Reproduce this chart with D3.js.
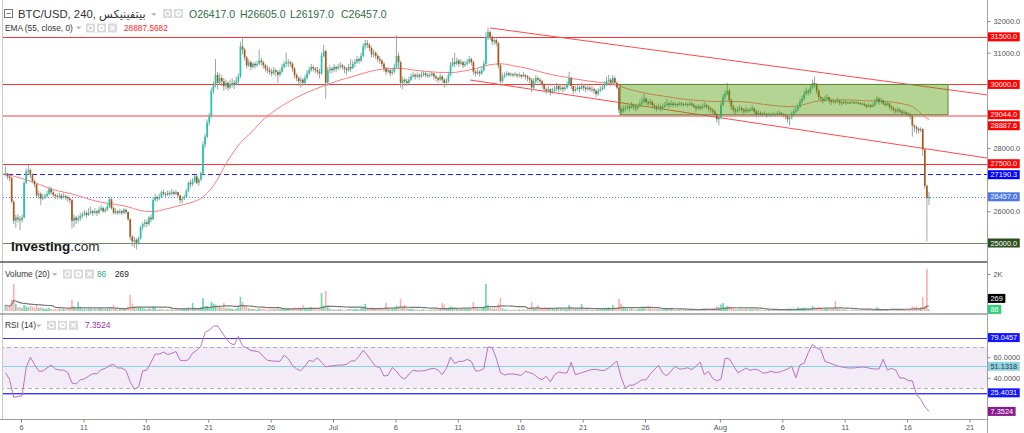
<!DOCTYPE html>
<html>
<head>
<meta charset="utf-8">
<script src="https://cdnjs.cloudflare.com/ajax/libs/d3/7.8.5/d3.min.js"></script>
<style>
  body { margin: 0; background: #fff; }
  svg { display: block; font-family: "Liberation Sans", Arial, "DejaVu Sans", sans-serif; }
</style>
</head>
<body>
<script>
// BTC/USD 240 (4h candles), Bitfinex, early June - mid August 2023
var firstCandle = '2023-06-04 16:00';
var firstOpen = 27150;
var xDomain = ['2023-06-04 13:23', '2023-08-22 09:36'];

var closes = [
  27200,
  27100,27050,26300,25700,25800,25750,
  25720,25800,26900,27250,27300,27150,
  26950,26850,26500,26550,26400,26450,
  26480,26550,26700,26600,26520,26480,
  26450,26500,26420,26480,26450,26400,
  26350,25700,25800,25720,25780,25850,
  25900,25950,25880,25950,26000,25950,
  26000,25950,26050,26100,26000,26050,
  26150,26380,26100,25950,26000,25950,
  26000,25950,26050,25980,25750,25200,
  25050,25100,25000,25150,25500,25600,
  25650,25600,25800,25750,26350,26450,
  26400,26450,26600,26550,26520,26580,
  26550,26600,26550,26600,26500,26350,
  26400,26450,26650,26900,26850,26950,
  27100,26900,27000,27200,28100,28350,
  28800,29000,29800,30000,30300,30050,
  30200,30100,29950,30050,29900,30000,
  30050,30000,30100,30250,31200,31100,
  30850,30600,30700,30550,30650,30600,
  30650,30750,30700,30600,30500,30450,
  30400,30350,30450,30400,30300,30400,
  30550,30650,30700,30700,30650,
  30500,30300,30200,30100,30150,30050,
  30200,30350,30450,30550,30500,30450,
  30400,30350,30900,31050,30050,30450,
  30500,30450,30550,30500,30550,30600,
  30550,30500,30450,30550,30500,30650,
  30700,30800,30750,30900,31200,31300,
  31250,31150,30950,31000,30900,30800,
  30750,30650,30500,30400,30450,30350,
  30400,30550,30900,30700,30050,30150,
  30100,30050,30150,30250,30300,30250,
  30300,30250,30300,30350,30300,30280,
  30300,30350,30250,30200,30150,
  30250,30150,30050,30100,30300,30600,
  30700,30650,30750,30650,30700,30600,
  30650,30700,30800,30700,30400,30350,
  30400,30350,30450,30650,31500,31650,
  31500,31350,31400,31300,30600,30100,
  30250,30300,30350,30300,30320,30300,
  30320,30280,30300,30250,30300,30250,
  30200,30150,29900,30100,30200,30150,
  30100,30000,29850,29800,29850,29750,
  29800,29850,29950,29850,29900,29850,
  29900,30000,30200,29950,29800,29850,
  29900,29850,29950,29900,29850,29900,
  29850,29850,29800,29700,29800,
  29850,29900,30000,30100,30150,30050,
  30200,30050,29900,29200,29150,29250,
  29250,29300,29250,29350,29300,29250,
  29300,29400,29450,29550,29450,29400,
  29450,29350,29300,29250,29300,29250,
  29300,29350,29400,29350,29400,29350,
  29380,29350,29400,29380,29350,29380,
  29350,29400,29350,29300,29250,29300,
  29250,29300,29350,29300,29250,29200,
  29150,29050,28900,28950,29350,29600,
  29700,29800,29500,29300,29200,29150,
  29200,29250,29200,29150,29200,29180,
  29200,29250,29150,29050,29100,29080,
  29050,29080,29020,29060,29050,
  29070,29050,29080,29100,29050,29030,
  29000,28900,28950,29050,29150,29200,
  29300,29450,29550,29700,29800,29750,
  29900,30050,30000,29800,29600,29550,
  29500,29550,29600,29500,29450,29480,
  29450,29500,29430,29400,29450,29420,
  29430,29420,29440,29420,29430,29410,
  29400,29380,29350,29300,29350,29300,
  29350,29450,29550,29450,29500,29400,
  29350,29400,29300,29250,29200,29150,
  29200,29150,29100,29120,29080,29050,
  29000,28700,28650,28600,28550,28600,
  27950,26800,26417,26457
];

var highs = [
  27420,
  27200,27150,27100,26350,25900,25900,
  25850,25900,26950,27350,27460,27350,
  27200,27000,26880,26650,26600,26550,
  26560,26650,26780,26760,26650,26560,
  26560,26580,26550,26600,26520,26500,
  26450,26380,25900,25850,25880,25950,
  25980,26050,26000,26100,26150,26050,
  26100,26050,26150,26200,26150,26120,
  26250,26450,26400,26150,26100,26050,
  26080,26050,26100,26080,26000,25780,
  25250,25200,25150,25200,25550,25650,
  25750,25720,25850,25900,26450,26550,
  26500,26550,26650,26680,26600,26650,
  26650,26700,26650,26680,26620,26520,
  26480,26520,26700,26950,27000,27050,
  27150,27150,27050,27250,28200,28450,
  28900,29100,29900,30100,30800,30400,
  30350,30300,30200,30150,30100,30150,
  30200,30150,30250,30350,31350,31450,
  31150,30900,30800,30750,30700,30720,
  30750,31100,30850,30750,30650,30600,
  30550,30500,30550,30500,30450,30500,
  30650,30750,31000,30800,30750,
  30700,30550,30350,30250,30250,30200,
  30300,30450,30550,30650,30600,30550,
  30550,30500,31000,31250,31100,30550,
  30600,30550,30650,30600,30650,30700,
  30650,30600,30550,30650,30800,30750,
  30800,30900,30850,31000,31300,31400,
  31400,31300,31200,31100,31050,30950,
  30900,30800,30700,30550,30550,30500,
  30500,30650,31550,31000,30750,30250,
  30200,30180,30250,30350,30400,30350,
  30380,30350,30400,30420,30400,30350,
  30380,30420,30350,30300,30250,
  30350,30300,30200,30200,30400,30700,
  30850,31000,30850,30800,30800,30750,
  30750,30800,30900,30850,30750,30450,
  30500,30450,30550,30750,31650,31800,
  31700,31550,31500,31450,31350,30650,
  30350,30380,30420,30400,30380,30360,
  30400,30350,30380,30330,30400,30320,
  30300,30250,30200,30200,30300,30250,
  30200,30150,30050,29900,29950,29880,
  29900,29950,30050,30000,30000,29950,
  30000,30100,30400,30250,29950,29950,
  30000,29950,30050,30000,29950,30000,
  29950,29950,29900,29850,29880,
  29950,30000,30100,30250,30300,30200,
  30300,30250,30100,29950,29280,29350,
  29350,29400,29350,29450,29400,29350,
  29400,29500,29600,29700,29600,29500,
  29550,29500,29400,29350,29400,29350,
  29400,29450,29550,29450,29500,29450,
  29450,29420,29460,29450,29420,29440,
  29420,29480,29450,29400,29350,29380,
  29350,29400,29450,29400,29350,29300,
  29250,29200,29100,29050,29450,29700,
  29800,30050,29850,29550,29350,29250,
  29300,29350,29300,29250,29300,29250,
  29280,29350,29280,29200,29180,29150,
  29120,29150,29100,29120,29100,
  29130,29100,29150,29180,29130,29100,
  29080,29050,29000,29150,29250,29300,
  29400,29550,29650,29800,29900,29850,
  30000,30150,30250,30050,29850,29650,
  29600,29650,29700,29600,29550,29550,
  29520,29580,29520,29480,29520,29480,
  29480,29470,29490,29460,29470,29460,
  29450,29430,29420,29380,29400,29380,
  29420,29550,29650,29600,29580,29520,
  29450,29480,29420,29350,29300,29250,
  29280,29250,29200,29200,29150,29130,
  29100,29050,28750,28700,28650,28650,
  28600,27950,26850,26605
];

var lows = [
  27100,
  27000,26950,26250,25600,25480,25650,
  25400,25650,25780,26850,27150,27050,
  26900,26750,26450,26400,26200,26350,
  26380,26420,26500,26520,26450,26380,
  26380,26400,26350,26400,26350,26300,
  26250,25450,25500,25600,25650,25700,
  25780,25850,25800,25850,25900,25850,
  25900,25850,25900,26000,25950,25950,
  26000,26100,26050,25900,25900,25880,
  25900,25880,25920,25900,25700,25100,
  24900,24850,24800,24950,25100,25400,
  25500,25500,25550,25650,25720,26300,
  26300,26350,26420,26480,26450,26480,
  26480,26500,26500,26500,26450,26250,
  26250,26350,26420,26600,26750,26800,
  26900,26850,26800,26950,27150,28000,
  28300,28700,28950,29700,29900,29850,
  30000,29950,29800,29850,29800,29850,
  29900,29850,29950,30000,30200,30950,
  30750,30500,30550,30450,30500,30500,
  30550,30600,30600,30500,30400,30350,
  30300,30250,30300,30250,30050,30250,
  30350,30500,30550,30550,30550,
  30400,30200,30100,29950,29900,29950,
  30000,30150,30300,30400,30400,30350,
  30300,30200,30300,30850,29550,29950,
  30350,30350,30400,30400,30450,30500,
  30450,30350,30300,30400,30400,30500,
  30550,30650,30650,30700,30850,31100,
  31150,31050,30850,30850,30800,30700,
  30650,30550,30400,30300,30350,30250,
  30300,30350,30500,30500,29900,29850,
  29950,29950,30000,30100,30200,30150,
  30200,30150,30200,30250,30220,30200,
  30220,30250,30150,30100,30050,
  30100,30050,29900,29950,30050,30250,
  30550,30550,30600,30550,30600,30500,
  30550,30600,30650,30600,30300,30250,
  30300,30250,30300,30400,30600,31400,
  31400,31250,31250,31200,30500,29950,
  30050,30200,30250,30250,30250,30230,
  30250,30200,30220,30180,30220,30150,
  30100,30050,29750,29850,30000,30050,
  30000,29900,29750,29700,29750,29650,
  29700,29750,29800,29750,29800,29750,
  29800,29850,29950,29850,29700,29750,
  29800,29750,29850,29800,29750,29800,
  29780,29750,29700,29600,29650,
  29750,29800,29850,29950,30050,29950,
  30000,29950,29850,29100,29050,29100,
  29150,29200,29150,29250,29200,29150,
  29200,29300,29350,29400,29350,29300,
  29350,29250,29200,29150,29200,29150,
  29200,29250,29300,29250,29300,29280,
  29300,29280,29320,29300,29300,29320,
  29280,29320,29300,29250,29150,29200,
  29180,29200,29250,29220,29150,29100,
  29050,28950,28800,28700,28900,29300,
  29500,29650,29400,29200,29100,29050,
  29100,29150,29100,29050,29100,29100,
  29120,29150,29050,28950,29000,29000,
  28980,29000,28950,29000,28980,
  29000,28980,29000,29030,28980,28950,
  28900,28800,28700,28900,29000,29100,
  29150,29250,29400,29500,29650,29650,
  29700,29850,29900,29700,29500,29450,
  29400,29450,29500,29400,29350,29400,
  29380,29420,29350,29320,29380,29350,
  29380,29380,29400,29380,29390,29370,
  29350,29330,29300,29250,29280,29250,
  29280,29300,29400,29350,29400,29350,
  29300,29320,29200,29150,29100,29080,
  29100,29080,29020,29050,29000,28980,
  28900,28350,28500,28450,28450,28500,
  27750,26700,25050,26197
];

var volumes = [
  320,
  250,200,600,1460,400,200,
  220,150,320,250,200,270,
  240,180,320,180,200,150,
  120,130,180,110,100,90,
  80,110,90,120,100,130,
  150,600,250,150,490,200,
  100,90,110,120,140,90,
  110,100,130,150,120,100,
  120,200,180,320,110,90,
  100,90,110,120,250,865,
  400,250,250,200,200,150,
  120,100,150,130,250,200,
  100,80,120,90,80,90,
  80,90,70,80,100,150,
  110,90,160,200,150,430,
  180,160,130,200,700,270,
  270,200,490,400,350,250,
  200,180,430,150,180,140,
  120,100,130,200,757,490,
  300,200,150,130,120,100,
  90,160,110,120,100,90,
  100,90,110,100,150,90,
  110,130,150,150,90,
  130,200,150,180,150,320,
  150,140,120,200,110,100,
  90,100,970,300,1080,300,
  120,90,80,90,80,100,
  80,70,90,100,120,90,
  100,120,90,150,250,380,
  150,130,200,120,110,100,
  120,130,180,430,110,120,
  110,180,300,250,650,200,
  320,150,120,110,100,90,
  80,70,80,90,70,60,
  60,70,90,100,90,
  120,430,350,150,200,250,
  200,180,150,140,120,130,
  110,100,120,130,490,150,
  120,100,130,250,1460,320,
  200,150,130,150,400,700,
  150,90,80,70,60,70,
  60,70,80,70,90,80,
  100,120,490,200,150,320,
  150,130,200,180,120,140,
  110,100,150,120,110,100,
  100,130,320,200,150,110,
  100,90,380,110,100,90,
  70,80,70,90,80,
  80,90,120,180,200,150,
  320,200,180,650,400,250,
  150,120,110,130,100,90,
  100,130,150,180,140,270,
  150,130,120,110,100,90,
  100,90,110,100,120,90,
  60,50,60,70,50,60,
  60,70,60,80,90,120,
  100,110,120,100,110,120,
  130,150,250,200,350,430,
  200,270,250,150,130,110,
  100,90,110,120,100,90,
  90,100,110,120,100,90,
  60,50,50,60,50,
  50,60,50,70,60,70,
  80,100,150,120,130,100,
  200,150,160,180,150,130,
  150,270,200,180,200,150,
  120,110,130,100,120,100,
  540,120,110,100,90,80,
  50,40,50,40,50,40,
  50,60,70,80,60,70,
  80,120,200,150,110,100,
  90,80,90,80,70,80,
  80,90,100,80,90,80,
  120,250,200,270,140,200,
  757,250,2270,86
];

// EMA(55) read at noon of each day, from 4 Jun to 17 Aug, then its last value
var emaNoon = [
  27180,27100,26980,26845,26690,26600,26500,26375,26280,26220,
  26150,26030,25990,26060,26160,26260,26430,26850,27550,28120,
  28510,28920,29220,29460,29670,29840,29990,30130,30240,30360,
  30455,30500,30500,30450,30410,30380,30375,30425,30505,30615,
  30650,30585,30510,30410,30310,30240,30165,30105,30060,30010,
  29875,29770,29690,29630,29565,29520,29490,29460,29470,29460,
  29430,29370,29330,29300,29340,29450,29500,29510,29510,29485,
  29480,29455,29400,29280,28950
];
var emaLast = 28887.5682;

// RSI(14), one reading every second candle (8h)
var rsi8h = [
  45,38.5,21,21.8,22.5,50,60,53,46.4,46.5,
  49.5,52.4,48.5,47.5,47.5,45,35,34,38,39,
  41.5,44,44,47.9,49,52,53,49.5,49.5,47,
  36,28.8,31,46.6,47.5,55,63,63,65,62.6,
  63.7,65.5,57,56.5,57.5,64,66.7,70.8,84,86.5,
  90,90.5,84.5,78.5,73.5,72,80,71,69,66.5,
  66,65,60.5,57,56.5,56,56,62,58.5,
  52,48.6,46.9,51.2,56.8,56,59.5,55,50.5,51.5,
  51.7,52.4,52.4,53,56.3,56.4,61,66.7,62,56.2,
  51,49.9,41.7,42.5,50,46.4,41,38.8,43.5,47.3,
  46.6,46.6,47.2,48.5,49.2,47.5,43.2,49,60,54,
  56,56,57.8,56,46.7,46.8,49,70,69.2,59,
  45,42.7,43.7,43.7,43,42.4,46.2,45,43.5,40,
  38.2,41.5,36,43,45.6,44.7,44.7,55,43,44.2,
  45.6,46.9,48,48.2,47.2,47.2,49.6,53,56.2,40.5,
  30,32.7,33,35.4,38,38,43.5,48,52,44.5,
  42,46.5,51.2,48.4,48.8,49.8,47.9,51.2,55.3,
  43.1,46.2,39.5,37,38.8,59,58.5,52,45,46.9,
  49.5,47.2,48.4,47.6,44.7,44.8,46.4,45.2,45.5,47,
  48.4,51.3,40,52.6,54.2,64.5,72.5,69,67.3,55.9,
  54.6,53,51.4,50.6,49.8,49.5,49.6,50,50.5,50,
  49,48.5,48.6,58,47.5,49.2,47.5,39.8,39.8,37.3,
  37,24,19,12,7.3524
];

// drawn levels and zones
var resistLevels = [31500, 30000, 27500];
var thickLevel = 29044;
var dashLevel = 27190.3;
var supportLevel = 25000;
var channelUpper = [['2023-07-13 14:00', 31780], ['2023-08-22 09:36', 29670]];
var channelLower = [['2023-07-11 23:30', 30140], ['2023-08-22 09:36', 27680]];
var boxDates = ['2023-07-24 00:00', '2023-08-19 06:40'];
var boxPrices = [30000, 29044];
var rsiLevels = [79.0457, 51.1318, 25.4031];

var priceTicks = [26000, 27000, 28000, 29000, 30000, 31000, 32000];
var volTicks = [2000];
var rsiTicks = [20, 40, 60, 80, 100];
var xTickDates = ['2023-06-06','2023-06-11','2023-06-16','2023-06-21','2023-06-26','2023-07-01',
                  '2023-07-06','2023-07-11','2023-07-16','2023-07-21','2023-07-26','2023-08-01',
                  '2023-08-06','2023-08-11','2023-08-16','2023-08-21'];
var xTickLabels = ['6','11','16','21','26','Jul','6','11','16','21','26','Aug','6','11','16','21'];

// ---------------------------------------------------------------
var w = 1024, h = 433, axisX = 987;
var parseTime = d3.timeParse('%Y-%m-%d %H:%M');
var parseDay = d3.timeParse('%Y-%m-%d');
var step = 4 * 3600 * 1000;
var t0 = parseTime(firstCandle);

var candles = closes.map(function(c, i) {
  var o = i ? closes[i - 1] : firstOpen;
  return {
    t: new Date(+t0 + i * step + step / 2), o: o, c: c,
    h: Math.max(highs[i], o, c), l: Math.min(lows[i], o, c),
    v: volumes[i], up: c >= o
  };
});
var last = candles[candles.length - 1];

// volume moving average (20)
candles.forEach(function(d, i) {
  d.ma = d3.mean(candles.slice(Math.max(0, i - 19), i + 1), function(e) { return e.v; });
});

var svg = d3.select('body').append('svg')
            .attr('width', w)
            .attr('height', h);

var x = d3.scaleTime()
          .domain([parseTime(xDomain[0]), parseTime(xDomain[1])])
          .range([3, axisX]);
var yPrice = d3.scaleLinear().domain([25000, 32000]).range([243, 21]);
var yVol = d3.scaleLinear().domain([0, 2000]).range([311, 274]);
var yRsi = d3.scaleLinear().domain([0, 100]).range([419, 316]);

var defs = svg.append('defs');
function clip(id, y0, y1) {
  defs.append('clipPath').attr('id', id)
      .append('rect').attr('x', 3).attr('y', y0).attr('width', axisX - 3).attr('height', y1 - y0);
  return svg.append('g').attr('clip-path', 'url(#' + id + ')');
}
var pricePane = clip('cp', 0, 261);
var volPane = clip('cv', 263, 313);
var rsiPane = clip('cr', 315, 419);

function hline(g, y, color, width, dash) {
  var yy = Math.round(y) + 0.5;
  g.append('line')
   .attr('x1', 0).attr('x2', axisX)
   .attr('y1', yy).attr('y2', yy)
   .attr('stroke', color)
   .attr('stroke-width', width)
   .attr('shape-rendering', 'crispEdges')
   .attr('stroke-dasharray', dash || null);
}

// ---- price pane
resistLevels.forEach(function(p) { hline(pricePane, yPrice(p), '#ff3434', 1); });
hline(pricePane, yPrice(thickLevel), '#ff9c9c', 2);
hline(pricePane, yPrice(dashLevel), '#1f1fff', 1, '5,3');
hline(pricePane, yPrice(last.c), '#5a7dff', 1, '1,2');
hline(pricePane, yPrice(supportLevel), '#6f8c60', 1);

[channelUpper, channelLower].forEach(function(seg) {
  pricePane.append('line')
     .attr('x1', x(parseTime(seg[0][0]))).attr('y1', yPrice(seg[0][1]))
     .attr('x2', x(parseTime(seg[1][0]))).attr('y2', yPrice(seg[1][1]))
     .attr('stroke', '#ff4a4a')
     .attr('stroke-width', 1);
});

var emaPts = emaNoon.map(function(v, i) {
  return { t: d3.timeHour.offset(parseDay('2023-06-04'), 12 + 24 * i), v: v };
});
emaPts.push({ t: last.t, v: emaLast });
pricePane.append('path')
   .datum(emaPts)
   .attr('fill', 'none')
   .attr('stroke', '#ff7b7b')
   .attr('stroke-width', 1)
   .attr('d', d3.line().curve(d3.curveMonotoneX)
                 .x(function(d) { return x(d.t); })
                 .y(function(d) { return yPrice(d.v); }));

pricePane.selectAll('line.wick')
   .data(candles)
   .enter()
   .append('line')
   .attr('class', 'wick')
   .attr('x1', function(d) { return x(d.t); })
   .attr('x2', function(d) { return x(d.t); })
   .attr('y1', function(d) { return yPrice(d.h); })
   .attr('y2', function(d) { return yPrice(d.l); })
   .attr('stroke', '#96a8a0')
   .attr('stroke-width', 1);

pricePane.selectAll('rect.body')
   .data(candles)
   .enter()
   .append('rect')
   .attr('class', 'body')
   .attr('x', function(d) { return x(d.t) - 0.85; })
   .attr('width', 1.7)
   .attr('y', function(d) { return yPrice(Math.max(d.o, d.c)); })
   .attr('height', function(d) { return Math.max(1, Math.abs(yPrice(d.o) - yPrice(d.c))); })
   .attr('fill', function(d) { return d.up ? '#1fc6ad' : '#b0541c'; });

pricePane.append('rect')
   .attr('x', x(parseTime(boxDates[0])))
   .attr('width', x(parseTime(boxDates[1])) - x(parseTime(boxDates[0])))
   .attr('y', yPrice(boxPrices[0]))
   .attr('height', yPrice(boxPrices[1]) - yPrice(boxPrices[0]))
   .attr('fill', 'rgba(76,153,0,0.42)')
   .attr('stroke', '#5b8a3c')
   .attr('stroke-width', 1);

// ---- volume pane
volPane.selectAll('rect')
   .data(candles)
   .enter()
   .append('rect')
   .attr('x', function(d) { return x(d.t) - 0.85; })
   .attr('width', 1.7)
   .attr('y', function(d) { return yVol(d.v); })
   .attr('height', function(d) { return yVol(0) - yVol(d.v); })
   .attr('fill', function(d) { return d.up ? '#6fd8ad' : '#ffb0b0'; });
volPane.append('path')
   .datum(candles)
   .attr('fill', 'none')
   .attr('stroke', '#777')
   .attr('stroke-width', 1.2)
   .attr('d', d3.line()
                 .x(function(d) { return x(d.t); })
                 .y(function(d) { return yVol(d.ma); }));

// ---- rsi pane
rsiPane.append('rect')
   .attr('x', 0).attr('width', axisX)
   .attr('y', yRsi(70)).attr('height', yRsi(30) - yRsi(70))
   .attr('fill', 'rgba(150,70,170,0.11)');
hline(rsiPane, yRsi(70), '#b0b0b0', 1, '4,3');
hline(rsiPane, yRsi(30), '#b0b0b0', 1, '4,3');
hline(rsiPane, yRsi(rsiLevels[0]), '#3a3af2', 1);
hline(rsiPane, yRsi(rsiLevels[1]), '#86d2e6', 1);
hline(rsiPane, yRsi(rsiLevels[2]) + 1, '#a9b0ff', 1);
hline(rsiPane, yRsi(rsiLevels[2]), '#3a3af2', 1);
rsiPane.append('path')
   .datum(rsi8h)
   .attr('fill', 'none')
   .attr('stroke', '#b672c4')
   .attr('stroke-width', 1)
   .attr('d', d3.line()
                 .x(function(d, i) { return x(candles[Math.min(2 * i, candles.length - 1)].t); })
                 .y(function(d) { return yRsi(d); }));

// ---- frame
svg.append('line').attr('x1', 2.5).attr('x2', 2.5).attr('y1', 0).attr('y2', 419).attr('stroke', '#c8c8c8');
svg.append('line').attr('x1', 0).attr('x2', axisX).attr('y1', 262).attr('y2', 262).attr('stroke', '#555').attr('stroke-width', 1.6);
svg.append('line').attr('x1', 0).attr('x2', axisX).attr('y1', 314).attr('y2', 314).attr('stroke', '#999').attr('stroke-width', 1.4);
svg.append('line').attr('x1', 0).attr('x2', axisX).attr('y1', 419.5).attr('y2', 419.5).attr('stroke', '#a0a0a0');
svg.append('line').attr('x1', axisX + 0.5).attr('x2', axisX + 0.5).attr('y1', 0).attr('y2', h).attr('stroke', '#a0a0a0');

// ---- value tags on the right axis (placed first, ticks under them are dropped)
var tagLayer = svg.append('g');
var tagYs = [];
function tags(list, scale, fmt, pushUp) {
  var gap = 11;
  list.forEach(function(d) { d.y = scale(d.v); });
  var s = list.slice().sort(function(a, b) { return pushUp ? b.y - a.y : a.y - b.y; });
  for (var i = 1; i < s.length; i++) {
    if (pushUp && s[i - 1].y - s[i].y < gap) s[i].y = s[i - 1].y - gap;
    if (!pushUp && s[i].y - s[i - 1].y < gap) s[i].y = s[i - 1].y + gap;
  }
  list.forEach(function(d) {
    tagYs.push(d.y);
    var g = tagLayer.append('g').attr('transform', 'translate(' + (axisX + 1) + ',' + d.y + ')');
    var r = g.append('rect');
    var t = g.append('text')
             .attr('x', 2.5).attr('dy', '0.35em')
             .attr('fill', d.fg || '#fff')
             .style('font-size', '7.4px')
             .text(fmt(d.v));
    r.attr('x', 0).attr('y', -4.5).attr('height', 9)
     .attr('width', t.node().getComputedTextLength() + 5)
     .attr('fill', d.bg);
  });
}
var f1 = d3.format('.1f'), f4 = d3.format('.4f'), f0 = d3.format('.0f');
tags([
  { v: resistLevels[0], bg: '#ff0000' },
  { v: resistLevels[1], bg: '#ff0000' },
  { v: thickLevel, bg: '#ff0000' },
  { v: emaLast, bg: '#ff0000' },
  { v: resistLevels[2], bg: '#ff0000' },
  { v: dashLevel, bg: '#0000ff' },
  { v: last.c, bg: '#4d78e6' },
  { v: supportLevel, bg: '#2c4f1d' }
], yPrice, f1, false);
tags([
  { v: last.v, bg: '#2fcf7a' },
  { v: last.ma, bg: '#000' }
], yVol, f0, true);
tags([
  { v: rsiLevels[0], bg: '#1414ff' },
  { v: rsiLevels[1], bg: '#8dd3e4', fg: '#333' },
  { v: rsiLevels[2], bg: '#1414ff' },
  { v: rsi8h[rsi8h.length - 1], bg: '#8b1c8e' }
], yRsi, f4, false);

function freeOf(scale) {
  return function(v) {
    return tagYs.every(function(ty) { return Math.abs(scale(v) - ty) > 9; });
  };
}

// ---- axes
function styleAxis(g) {
  g.select('.domain').remove();
  g.selectAll('line').attr('stroke', '#888');
  g.selectAll('text').attr('fill', '#555').style('font-size', '7.4px');
}
svg.insert('g', function() { return tagLayer.node(); })
   .attr('transform', 'translate(' + (axisX + 0.5) + ',0)')
   .call(d3.axisRight(yPrice).tickValues(priceTicks.filter(freeOf(yPrice)))
           .tickSize(3).tickPadding(3).tickFormat(d3.format('.1f')))
   .call(styleAxis);
svg.insert('g', function() { return tagLayer.node(); })
   .attr('transform', 'translate(' + (axisX + 0.5) + ',0)')
   .call(d3.axisRight(yVol).tickValues(volTicks.filter(freeOf(yVol))).tickSize(3).tickPadding(3)
           .tickFormat(function(d) { return d / 1000 + 'K'; }))
   .call(styleAxis);
svg.insert('g', function() { return tagLayer.node(); })
   .attr('transform', 'translate(' + (axisX + 0.5) + ',0)')
   .call(d3.axisRight(yRsi).tickValues(rsiTicks.filter(freeOf(yRsi)))
           .tickSize(3).tickPadding(3).tickFormat(d3.format('.4f')))
   .call(styleAxis);
svg.append('g')
   .attr('transform', 'translate(0,419.5)')
   .call(d3.axisBottom(x)
           .tickValues(xTickDates.map(parseDay))
           .tickSize(3).tickPadding(2)
           .tickFormat(function(d, i) { return xTickLabels[i]; }))
   .call(styleAxis);

// ---- legends
function arrow(x0, y0) {
  svg.append('path').attr('d', 'M' + x0 + ',' + y0 + 'l5.5,0l-2.75,3z').attr('fill', '#b8b8b8');
}
function icon(x0, y0, kind) {
  var g = svg.append('g').attr('transform', 'translate(' + x0 + ',' + y0 + ')');
  g.append('rect').attr('width', 9).attr('height', 9).attr('fill', '#d9d9d9');
  if (kind === 'eye') {
    g.append('circle').attr('cx', 4.5).attr('cy', 4.5).attr('r', 2.4)
     .attr('fill', 'none').attr('stroke', '#fff').attr('stroke-width', 1.2);
  } else if (kind === 'gear') {
    g.append('circle').attr('cx', 4.5).attr('cy', 4.5).attr('r', 3).attr('fill', '#fff');
    g.append('circle').attr('cx', 4.5).attr('cy', 4.5).attr('r', 1.2).attr('fill', '#d9d9d9');
  } else {
    g.append('path').attr('d', 'M2.3,2.3L6.7,6.7M6.7,2.3L2.3,6.7')
     .attr('stroke', '#fff').attr('stroke-width', 1.4);
  }
}

// main legend
svg.append('rect').attr('x', 4.5).attr('y', 9.5).attr('width', 8).attr('height', 8)
   .attr('fill', '#fff').attr('stroke', '#777');
svg.append('line').attr('x1', 6.5).attr('x2', 10.5).attr('y1', 13.5).attr('y2', 13.5).attr('stroke', '#777');
svg.append('text').attr('x', 18).attr('y', 18)
   .attr('fill', '#333').style('font-size', '11.3px')
   .text('BTC/USD, 240, بيتفينيكس');
arrow(151, 13);
icon(163, 9, 'eye');
icon(174, 9, 'gear');
var ohlc = svg.append('text').attr('y', 18).style('font-size', '10.5px').attr('fill', '#2e6b42');
[['O', last.o, 189], ['H', last.h, 240], ['L', last.l, 290], ['C', last.c, 341]].forEach(function(d) {
  ohlc.append('tspan').attr('x', d[2]).text(d[0] + f1(d[1]));
});

svg.append('text').attr('x', 5).attr('y', 30.5)
   .attr('fill', '#333').style('font-size', '8.3px')
   .text('EMA (55, close, 0)');
arrow(76, 26.5);
icon(86, 23.5, 'eye');
icon(97, 23.5, 'gear');
icon(108, 23.5, 'x');
svg.append('text').attr('x', 124).attr('y', 30.5)
   .attr('fill', '#ff2626').style('font-size', '8.3px')
   .text(d3.format('.4f')(emaLast));

svg.append('text').attr('x', 5).attr('y', 277)
   .attr('fill', '#333').style('font-size', '8.3px')
   .text('Volume (20)');
arrow(52, 273);
icon(63, 269.5, 'eye');
icon(74, 269.5, 'gear');
icon(85, 269.5, 'x');
svg.append('text').attr('x', 97).attr('y', 277)
   .attr('fill', '#22b573').style('font-size', '8.3px').text(f0(last.v));
svg.append('text').attr('x', 115).attr('y', 277)
   .attr('fill', '#222').style('font-size', '8.3px').text(f0(last.ma));

svg.append('text').attr('x', 5).attr('y', 328.3)
   .attr('fill', '#333').style('font-size', '8.3px')
   .text('RSI (14)');
arrow(36, 324.5);
icon(47, 320.8, 'eye');
icon(58, 320.8, 'gear');
icon(69, 320.8, 'x');
svg.append('text').attr('x', 85).attr('y', 328.3)
   .attr('fill', '#9a2fa6').style('font-size', '8.3px')
   .text(f4(rsi8h[rsi8h.length - 1]));

// watermark
var wm = svg.append('text').attr('x', 11).attr('y', 251).style('font-size', '13.5px');
wm.append('tspan').attr('font-weight', 'bold').attr('fill', '#161616').text('Investing');
wm.append('tspan').attr('fill', '#2a2a2a').text('.com');
</script>
</body>
</html>
